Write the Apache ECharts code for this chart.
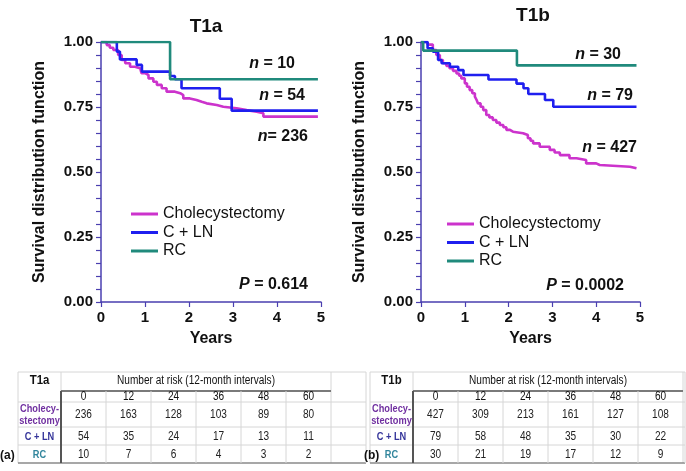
<!DOCTYPE html>
<html><head><meta charset="utf-8">
<script src="https://cdn.jsdelivr.net/npm/echarts@6/dist/echarts.min.js"></script>
<style>html,body{margin:0;padding:0;background:#fff}#c{width:686px;height:471px}</style>
</head><body><div id="c"></div>
<script>
// ---------- data ----------
const seriesNames = ['Cholecystectomy', 'C + LN', 'RC'];
const yTicks = [0, 0.25, 0.5, 0.75, 1.0];
const xTicks = [0, 1, 2, 3, 4, 5];

const t1aChole = [[0,1],[0.13,0.988],[0.2,0.978],[0.28,0.969],[0.39,0.95],[0.47,0.931],[0.55,0.918],[0.66,0.905],[0.77,0.899],[0.89,0.892],[0.92,0.88],[1.0,0.873],[1.08,0.86],[1.19,0.847],[1.27,0.835],[1.38,0.822],[1.49,0.809],[1.68,0.803],[1.80,0.796],[1.87,0.783],[2.02,0.777],[2.17,0.77],[2.29,0.764],[2.40,0.758],[2.63,0.751],[2.78,0.745],[3.08,0.738],[3.31,0.732],[3.54,0.726],[3.69,0.713],[4.93,0.713]];
const t1aCLN = [[0,1],[0.36,0.963],[0.43,0.933],[0.81,0.912],[0.93,0.886],[1.57,0.869],[1.68,0.857],[1.83,0.822],[2.70,0.782],[2.97,0.736],[4.93,0.736]];
const t1aRC = [[0,1],[1.57,0.857],[4.93,0.857]];

const t1bChole = [[0,1],[0.15,0.99],[0.27,0.969],[0.35,0.95],[0.43,0.931],[0.50,0.918],[0.58,0.908],[0.65,0.899],[0.73,0.889],[0.81,0.879],[0.87,0.87],[0.92,0.860],[1.0,0.841],[1.05,0.828],[1.11,0.815],[1.17,0.803],[1.23,0.79],[1.27,0.777],[1.30,0.764],[1.36,0.751],[1.42,0.738],[1.49,0.719],[1.56,0.71],[1.64,0.70],[1.72,0.69],[1.80,0.681],[1.88,0.672],[1.95,0.662],[2.03,0.655],[2.10,0.649],[2.33,0.642],[2.44,0.63],[2.50,0.62],[2.56,0.61],[2.71,0.597],[2.94,0.585],[3.05,0.575],[3.17,0.565],[3.39,0.553],[3.55,0.546],[3.77,0.533],[4.00,0.527],[4.08,0.52],[4.77,0.514],[4.92,0.514]];
const t1bCLN = [[0,1],[0.15,0.976],[0.27,0.963],[0.39,0.931],[0.47,0.918],[0.66,0.905],[0.85,0.892],[0.97,0.873],[1.54,0.856],[2.18,0.84],[2.34,0.822],[2.45,0.80],[2.83,0.777],[3.02,0.751],[4.92,0.751]];
const t1bRC = [[0,1],[0.05,0.967],[2.19,0.91],[4.92,0.91]];

const riskMonths = [0, 12, 24, 36, 48, 60];
const t1aRiskChole = [236, 163, 128, 103, 89, 80];
const t1aRiskCLN = [54, 35, 24, 17, 13, 11];
const t1aRiskRC = [10, 7, 6, 4, 3, 2];
const t1bRiskChole = [427, 309, 213, 161, 127, 108];
const t1bRiskCLN = [79, 58, 48, 35, 30, 22];
const t1bRiskRC = [30, 21, 19, 17, 12, 9];

// ---------- styles ----------
const FONT = "Arial, 'Liberation Sans', Helvetica, sans-serif";
const colors = ['#cc33cc', '#1f1fef', '#208a7c'];
const axisColor = '#4a3fb0';

function xAxis(gi) {
  return {
    type: 'value', gridIndex: gi, min: 0, max: 5, interval: 1,
    name: 'Years', nameLocation: 'middle', nameGap: 29,
    nameTextStyle: { fontFamily: FONT, fontWeight: 'bold', fontSize: 16, color: '#111' },
    axisLine: { show: true, lineStyle: { color: axisColor, width: 1.5 } },
    axisTick: { show: true, length: 5, lineStyle: { color: axisColor, width: 1.2 } },
    axisLabel: { fontFamily: FONT, fontWeight: 'bold', fontSize: 15, color: '#111', margin: 8 },
    splitLine: { show: false }
  };
}
function yAxis(gi) {
  return {
    type: 'value', gridIndex: gi, min: 0, max: 1, interval: 0.25,
    name: 'Survival distribution function', nameLocation: 'middle', nameGap: 53,
    nameTextStyle: { fontFamily: FONT, fontWeight: 'bold', fontSize: 16, color: '#111' },
    axisLine: { show: true, lineStyle: { color: axisColor, width: 1.5 } },
    axisTick: { show: true, length: 5, lineStyle: { color: axisColor, width: 1.2 } },
    minorTick: { show: true, splitNumber: 5, length: 5, lineStyle: { color: axisColor, width: 1.2 } },
    axisLabel: { fontFamily: FONT, fontWeight: 'bold', fontSize: 15, color: '#111', margin: 8,
      formatter: v => v.toFixed(2) },
    splitLine: { show: false }
  };
}
function km(name, data, gi, ci) {
  return {
    name, type: 'line', step: 'end', data, xAxisIndex: gi, yAxisIndex: gi,
    symbol: 'none', silent: true, animation: false,
    lineStyle: { color: colors[ci], width: 2.6 }, itemStyle: { color: colors[ci] }
  };
}

// ---------- annotations ----------
const graphics = [];
function txt(x, y, text, opts) {
  graphics.push({
    type: 'text', x, y, silent: true,
    style: Object.assign({ text, font: 'bold 16px ' + FONT, fill: '#111',
      align: 'right', textAlign: 'right', verticalAlign: 'middle', textVerticalAlign: 'middle' }, opts || {})
  });
}
const richN = { i: { fontStyle: 'italic', fontWeight: 'bold', fontSize: 16, fontFamily: FONT, fill: '#111', color: '#111' } };
txt(295, 64, '{i|n} = 10', { rich: richN });
txt(305, 96, '{i|n} = 54', { rich: richN });
txt(308, 137, '{i|n}= 236', { rich: richN });
txt(308, 285, '{i|P} = 0.614', { rich: richN });
txt(621, 55, '{i|n} = 30', { rich: richN });
txt(633, 96, '{i|n} = 79', { rich: richN });
txt(637, 148, '{i|n} = 427', { rich: richN });
txt(624, 286, '{i|P} = 0.0002', { rich: richN });

// ---------- risk tables ----------
const labelColors = ['#7030a0', '#333399', '#31859c'];
function line(x1, y1, x2, y2, stroke, w) {
  graphics.push({ type: 'line', silent: true, shape: { x1, y1, x2, y2 }, style: { stroke, lineWidth: w } });
}
function ttext(x, y, text, font, fill, sx) {
  graphics.push({ type: 'text', x, y, silent: true, scaleX: sx || 0.84,
    style: { text, font, fill, align: 'center', textAlign: 'center', verticalAlign: 'middle', textVerticalAlign: 'middle' } });
}
function buildTable(x0, xEnd, title, tag, rows) {
  const labW = 43, colW = 45, top = 372, hBot = 391, nBot = 402;
  const rowB = [402, 427, 445, 463];
  const xd = x0 + labW, xr = xd + colW * riskMonths.length;
  const light = '#d6d6d6';
  line(x0, top, xEnd, top, light, 1);
  line(x0, top, x0, 463, light, 1);
  line(xd, top, xd, hBot, light, 1);
  line(xr, top, xr, 463, light, 1);
  ttext(x0 + labW / 2, 381, title, 'bold 12px ' + FONT, '#111', 0.95);
  ttext(xd + colW * 3, 381, 'Number at risk (12-month intervals)', '12px ' + FONT, '#111');
  line(xd, hBot, xr, hBot, '#7a7a7a', 2);
  riskMonths.forEach((m, i) => ttext(xd + colW * i + colW / 2, 397, String(m), '12px ' + FONT, '#111'));
  line(x0, nBot, xEnd, nBot, light, 1);
  line(x0, rowB[1], xEnd, rowB[1], light, 1);
  line(x0, rowB[2], xEnd, rowB[2], light, 1);
  line(x0, rowB[3], xEnd, rowB[3], '#8a8a8a', 1.5);
  for (let i = 1; i < riskMonths.length; i++) line(xd + colW * i, hBot, xd + colW * i, 463, light, 1);
  line(xd, hBot, xd, 463, '#555', 2);
  line(xEnd, top, xEnd, 463, light, 1);
  ttext(x0 + labW / 2, 408.5, 'Cholecy-', 'bold 11px ' + FONT, labelColors[0]);
  ttext(x0 + labW / 2, 421, 'stectomy', 'bold 11px ' + FONT, labelColors[0]);
  ttext(x0 + labW / 2, 436.5, 'C + LN', 'bold 11px ' + FONT, labelColors[1]);
  ttext(x0 + labW / 2, 454.5, 'RC', 'bold 11px ' + FONT, labelColors[2]);
  const yc = [415, 436.5, 454.5];
  rows.forEach((r, ri) => r.forEach((v, i) => ttext(xd + colW * i + colW / 2, yc[ri], String(v), '12px ' + FONT, '#222')));
  graphics.push({ type: 'text', x: tag.x, y: 456, silent: true,
    style: { text: tag.t, font: 'bold 12px ' + FONT, fill: '#111', align: 'left', textAlign: 'left', verticalAlign: 'middle', textVerticalAlign: 'middle' } });
}
buildTable(18, 366, 'T1a', { x: 0, t: '(a)' }, [t1aRiskChole, t1aRiskCLN, t1aRiskRC]);
buildTable(370, 685, 'T1b', { x: 364, t: '(b)' }, [t1bRiskChole, t1bRiskCLN, t1bRiskRC]);

// ---------- chart ----------
const legendBase = {
  orient: 'vertical', itemWidth: 27, itemHeight: 3, itemGap: 2.5,
  icon: 'path://M0,0 L27,0 L27,3 L0,3 Z',
  textStyle: { fontFamily: FONT, fontSize: 16, color: '#111' }, selectedMode: false,
  data: seriesNames
};
const chart = echarts.init(document.getElementById('c'), null, { renderer: 'canvas' });
chart.setOption({
  animation: false,
  backgroundColor: '#fff',
  title: [
    { text: 'T1a', left: 201, top: 12, textAlign: 'center', textStyle: { fontFamily: FONT, fontWeight: 'bold', fontSize: 19, color: '#111' } },
    { text: 'T1b', left: 528, top: 1, textAlign: 'center', textStyle: { fontFamily: FONT, fontWeight: 'bold', fontSize: 19, color: '#111' } }
  ],
  legend: [
    Object.assign({}, legendBase, { left: 126, top: 201 }),
    Object.assign({}, legendBase, { left: 442, top: 211 })
  ],
  grid: [
    { left: 101, top: 42, width: 220, height: 260 },
    { left: 421, top: 42, width: 219, height: 260 }
  ],
  xAxis: [xAxis(0), xAxis(1)],
  yAxis: [yAxis(0), yAxis(1)],
  series: [
    km(seriesNames[0], t1aChole, 0, 0),
    km(seriesNames[1], t1aCLN, 0, 1),
    km(seriesNames[2], t1aRC, 0, 2),
    km(seriesNames[0], t1bChole, 1, 0),
    km(seriesNames[1], t1bCLN, 1, 1),
    km(seriesNames[2], t1bRC, 1, 2)
  ],
  graphic: graphics
});
</script></body></html>
